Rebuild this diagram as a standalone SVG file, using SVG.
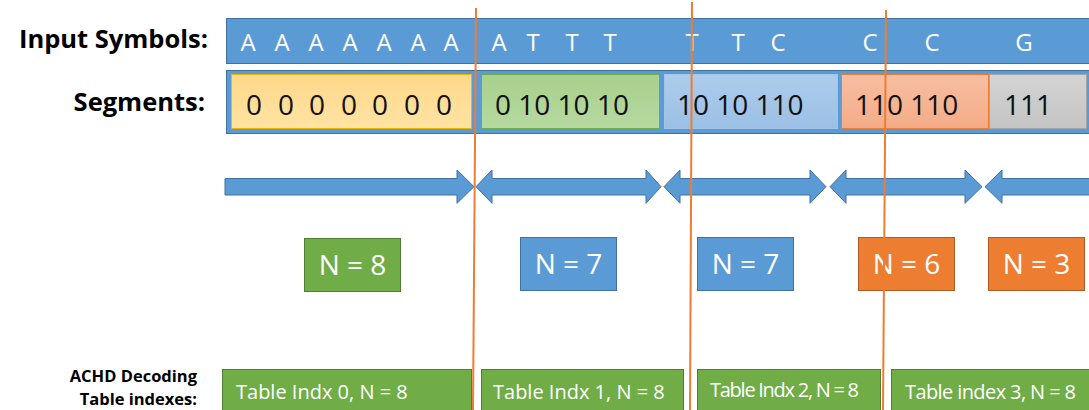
<svg xmlns="http://www.w3.org/2000/svg" width="1089" height="410" viewBox="0 0 1089 410">
<defs>
<linearGradient id="gY" x1="0" y1="0" x2="0" y2="1"><stop offset="0" stop-color="#FFD88B"/><stop offset="1" stop-color="#FFE3A3"/></linearGradient>
<linearGradient id="gG" x1="0" y1="0" x2="0" y2="1"><stop offset="0" stop-color="#A8D08D"/><stop offset="1" stop-color="#B6D9A0"/></linearGradient>
<linearGradient id="gB" x1="0" y1="0" x2="0" y2="1"><stop offset="0" stop-color="#ADCCEB"/><stop offset="1" stop-color="#9BC0E5"/></linearGradient>
<linearGradient id="gO" x1="0" y1="0" x2="0" y2="1"><stop offset="0" stop-color="#F7BEA2"/><stop offset="1" stop-color="#F4AC86"/></linearGradient>
<linearGradient id="gS" x1="0" y1="0" x2="0" y2="1"><stop offset="0" stop-color="#D4D4D4"/><stop offset="1" stop-color="#C4C4C4"/></linearGradient>
</defs>
<style>
.lbl{font-family:"Open Sans","Liberation Sans",sans-serif;font-weight:bold;fill:#000;text-anchor:end}
.bar{fill:#5B9BD5;stroke:#41719C;stroke-width:1}
.sym{font-family:"Open Sans","Liberation Sans",sans-serif;font-size:24px;fill:#fff;text-anchor:middle}
.seg{font-family:"Open Sans","Liberation Sans",sans-serif;font-size:28px;fill:#111}
.nt{font-family:"Open Sans","Liberation Sans",sans-serif;font-size:28px;fill:#fff;text-anchor:middle}
.tt{font-family:"Open Sans","Liberation Sans",sans-serif;font-size:20px;fill:#fff}
.arrow{fill:#5B9BD5;stroke:#41719C;stroke-width:1}
.div{stroke:#ED7D31;stroke-width:2;fill:none}
.green{fill:#70AD47;stroke:#507E32;stroke-width:1}
.blue{fill:#5B9BD5;stroke:#41719C;stroke-width:1}
.orange{fill:#ED7D31;stroke:#AE5A21;stroke-width:1}
</style>

<g id="labels">
<text class="lbl" x="208" y="48" font-size="25.5">Input Symbols:</text>
<text class="lbl" x="205" y="111" font-size="25.5">Segments:</text>
<text class="lbl" x="197" y="382" font-size="16.5">ACHD Decoding</text>
<text class="lbl" x="197" y="405" font-size="16.5">Table indexes:</text>
</g>

<g id="input-symbols">
<rect class="bar" x="226.5" y="18.5" width="863" height="45"/>
<text class="sym" y="51"><tspan x="248">A</tspan><tspan x="282">A</tspan><tspan x="316">A</tspan><tspan x="350">A</tspan><tspan x="384">A</tspan><tspan x="418">A</tspan><tspan x="451">A</tspan><tspan x="499">A</tspan><tspan x="533">T</tspan><tspan x="572">T</tspan><tspan x="610">T</tspan><tspan x="692">T</tspan><tspan x="738">T</tspan><tspan x="778">C</tspan><tspan x="870">C</tspan><tspan x="932">C</tspan><tspan x="1024">G</tspan></text>
</g>

<g id="segments">
<rect class="bar" x="226.5" y="70.5" width="863" height="63"/>
<g id="seg0">
<rect x="231.5" y="74.5" width="240" height="54" fill="url(#gY)" stroke="#F2B600" stroke-width="1"/>
<text class="seg" y="115" text-anchor="middle"><tspan x="254">0</tspan><tspan x="286">0</tspan><tspan x="317">0</tspan><tspan x="349">0</tspan><tspan x="380">0</tspan><tspan x="412">0</tspan><tspan x="444">0</tspan></text>
</g>
<g id="seg1">
<rect x="481.5" y="74.5" width="178" height="54" fill="url(#gG)" stroke="#70AD47" stroke-width="1"/>
<text class="seg" x="495" y="115">0 10 10 10</text>
</g>
<g id="seg2">
<rect x="664.5" y="74.5" width="173" height="54" fill="url(#gB)" stroke="#A3C4E6" stroke-width="1"/>
<text class="seg" x="677" y="115">10 10 110</text>
</g>
<g id="seg3">
<rect x="841.5" y="74.5" width="147" height="54" fill="url(#gO)" stroke="#ED7D31" stroke-width="1"/>
<text class="seg" x="855" y="115">110 110</text>
</g>
<g id="seg4">
<rect x="989.5" y="74.5" width="97" height="54" fill="url(#gS)" stroke="#A5A5A5" stroke-width="1"/>
<text class="seg" x="1004" y="115">111</text>
</g>
</g>

<g id="connectors">
<polygon class="arrow" points="225,178.5 457,178.5 457,170 474,186.7 457,203.3 457,195 225,195"/>
<polygon class="arrow" points="476,186.7 492,170 492,178.5 646,178.5 646,170 661,186.7 646,203.3 646,195 492,195 492,203.3"/>
<polygon class="arrow" points="664,186.7 680,170 680,178.5 810,178.5 810,170 826,186.7 810,203.3 810,195 680,195 680,203.3"/>
<polygon class="arrow" points="830,186.7 846,170 846,178.5 965,178.5 965,170 982,186.7 965,203.3 965,195 846,195 846,203.3"/>
<polygon class="arrow" points="985,186.7 1002,170 1002,178.5 1095,178.5 1095,195 1002,195 1002,203.3"/>
</g>

<g id="n8"><rect class="green" x="304.5" y="238.5" width="96" height="53"/><text class="nt" x="352.5" y="275">N = 8</text></g>
<g id="n7a"><rect class="blue" x="520.5" y="237.5" width="96" height="53"/><text class="nt" x="568.5" y="274">N = 7</text></g>
<g id="n7b"><rect class="blue" x="697.5" y="237.5" width="96" height="53"/><text class="nt" x="745.5" y="274">N = 7</text></g>
<g id="n6"><rect class="orange" x="858.5" y="237.5" width="96" height="53"/><text class="nt" x="906.5" y="274">N = 6</text></g>
<g id="n3"><rect class="orange" x="988.5" y="237.5" width="96" height="53"/><text class="nt" x="1036.5" y="274">N = 3</text></g>

<g id="t0"><rect class="green" x="222.5" y="369.5" width="249" height="45"/><text class="tt" x="236" y="399">Table Indx 0, N = 8</text></g>
<g id="t1"><rect class="green" x="481.5" y="369.5" width="202" height="45"/><text class="tt" x="493" y="399">Table Indx 1, N = 8</text></g>
<g id="t2"><rect class="green" x="697.5" y="369.5" width="183" height="45"/><text class="tt" x="710" y="397" font-size="16" textLength="149">Table Indx 2, N = 8</text></g>
<g id="t3"><rect class="green" x="891.5" y="369.5" width="200" height="45"/><text class="tt" x="905" y="399" font-size="18" textLength="171">Table index 3, N = 8</text></g>

<g id="dividers">
<line class="div" x1="476" y1="8" x2="473" y2="410"/>
<line class="div" x1="692" y1="2" x2="690" y2="410"/>
<line class="div" x1="886" y1="10" x2="883" y2="410"/>
</g>
</svg>
